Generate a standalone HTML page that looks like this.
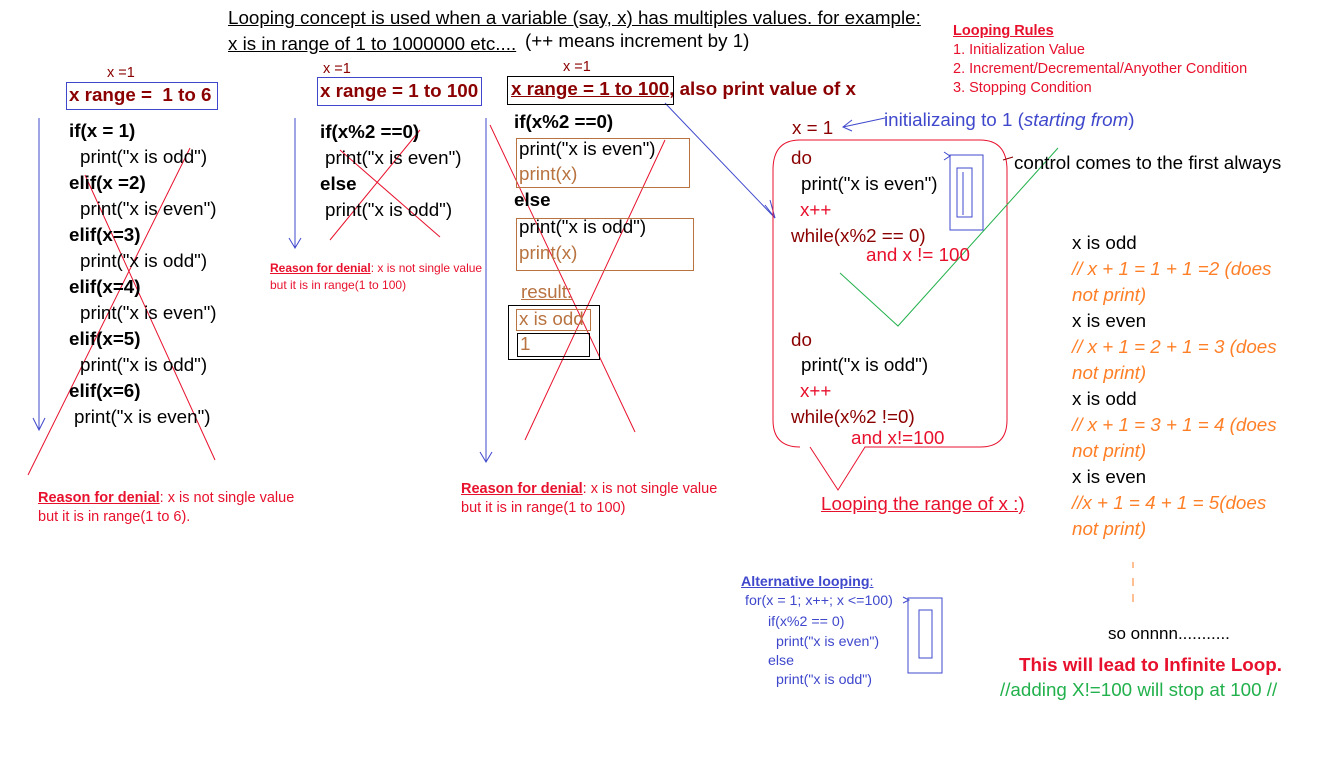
<!DOCTYPE html>
<html><head><meta charset="utf-8"><style>
body{margin:0;width:1338px;height:768px;background:#fff;position:relative;overflow:hidden;font-family:"Liberation Sans",sans-serif}
.t{position:absolute;white-space:nowrap;line-height:1}
.c{font-size:18.8px;color:#000}
.b{font-weight:bold}
.dr{color:#8b0000}
.r{color:#e8112d}
.br{color:#b87340}
.bl{color:#3f48cc}
.or{color:#ff7f27;font-style:italic}
.box{position:absolute;border:1px solid}
.rs{font-size:14.5px;color:#e8112d}
.al{font-size:14.2px}
</style></head><body>
<svg width="1338" height="768" style="position:absolute;left:0;top:0">
<g stroke="#3f48cc" fill="none" stroke-width="1">
<line x1="39" y1="118" x2="39" y2="430"/><polyline points="33,418 39,430 45,418"/>
<line x1="295" y1="118" x2="295" y2="248"/><polyline points="289,238 295,248 301,238"/>
<line x1="486" y1="118" x2="486" y2="462"/><polyline points="480,452 486,462 492,452"/>
<line x1="665" y1="103" x2="775" y2="218"/><polyline points="765,205 775,218 770,200"/>
<line x1="885" y1="118" x2="843" y2="127"/><polyline points="852,120 843,127 852,131"/>
<rect x="950" y="155" width="33" height="75"/><rect x="957" y="168" width="15" height="49"/>
<line x1="963" y1="172" x2="963" y2="215"/>
<polyline points="944,152 950,156 944,160"/>
<rect x="908" y="598" width="34" height="75"/><rect x="919" y="610" width="13" height="48"/>
<polyline points="903,597 909,600 903,603"/>
</g>
<g stroke="#e8112d" fill="none" stroke-width="1">
<line x1="28" y1="475" x2="190" y2="148"/><line x1="85" y1="175" x2="215" y2="460"/>
<line x1="330" y1="240" x2="420" y2="130"/><line x1="340" y1="150" x2="440" y2="237"/>
<line x1="490" y1="125" x2="635" y2="432"/><line x1="665" y1="140" x2="525" y2="440"/>
<path d="M810 447 L838 490 L865 447 L980 447 Q1007 447 1007 420 L1007 170 Q1007 140 980 140 L800 140 Q773 140 773 170 L773 420 Q773 447 800 447"/>
</g>
<g stroke="#22b14c" fill="none"><polyline points="840,273 898,326 1058,148"/></g>
<g stroke="#8b0000" fill="none"><line x1="1013" y1="157" x2="1003" y2="160"/></g>
<g stroke="#ff7f27"><line x1="1133" y1="562" x2="1133" y2="568"/><line x1="1133" y1="578" x2="1133" y2="586"/><line x1="1133" y1="594" x2="1133" y2="602"/></g>
</svg>

<div class="t c" style="left:228px;top:9px;text-decoration:underline">Looping concept is used when a variable (say, x) has multiples values. for example:</div>
<div class="t c" style="left:228px;top:35px;text-decoration:underline">x is in range of 1 to 1000000 etc....</div>
<div class="t c" style="left:525px;top:32px">(++ means increment by 1)</div>
<div class="t r b" style="left:953px;top:24px;font-size:14.5px;text-decoration:underline">Looping Rules</div>
<div class="t r" style="left:953px;top:43px;font-size:14.5px">1. Initialization Value</div>
<div class="t r" style="left:953px;top:62px;font-size:14.5px">2. Increment/Decremental/Anyother Condition</div>
<div class="t r" style="left:953px;top:81px;font-size:14.5px">3. Stopping Condition</div>

<div class="t dr" style="left:107px;top:66px;font-size:14.5px">x =1</div>
<div class="box" style="left:66px;top:82px;width:150px;height:26px;border-color:#3f48cc"></div>
<div class="t c b dr" style="left:69px;top:86px">x range =&nbsp; 1 to 6</div>
<div class="t c b" style="left:69px;top:122px">if(x = 1)</div>
<div class="t c" style="left:80px;top:148px">print("x is odd")</div>
<div class="t c b" style="left:69px;top:174px">elif(x =2)</div>
<div class="t c" style="left:80px;top:200px">print("x is even")</div>
<div class="t c b" style="left:69px;top:226px">elif(x=3)</div>
<div class="t c" style="left:80px;top:252px">print("x is odd")</div>
<div class="t c b" style="left:69px;top:278px">elif(x=4)</div>
<div class="t c" style="left:80px;top:304px">print("x is even")</div>
<div class="t c b" style="left:69px;top:330px">elif(x=5)</div>
<div class="t c" style="left:80px;top:356px">print("x is odd")</div>
<div class="t c b" style="left:69px;top:382px">elif(x=6)</div>
<div class="t c" style="left:74px;top:408px">print("x is even")</div>
<div class="t rs" style="left:38px;top:491px"><b><u>Reason for denial</u></b>: x is not single value</div>
<div class="t rs" style="left:38px;top:510px">but it is in range(1 to 6).</div>

<div class="t dr" style="left:323px;top:62px;font-size:14.5px">x =1</div>
<div class="box" style="left:317px;top:77px;width:163px;height:27px;border-color:#3f48cc"></div>
<div class="t c b dr" style="left:320px;top:82px">x range = 1 to 100</div>
<div class="t c b" style="left:320px;top:123px">if(x%2 ==0)</div>
<div class="t c" style="left:325px;top:149px">print("x is even")</div>
<div class="t c b" style="left:320px;top:175px">else</div>
<div class="t c" style="left:325px;top:201px">print("x is odd")</div>
<div class="t" style="left:270px;top:262px;font-size:12px;color:#e8112d"><b><u>Reason for denial</u></b>: x is not single value</div>
<div class="t" style="left:270px;top:279px;font-size:12px;color:#e8112d">but it is in range(1 to 100)</div>

<div class="t dr" style="left:563px;top:60px;font-size:14.5px">x =1</div>
<div class="box" style="left:507px;top:76px;width:165px;height:27px;border-color:#000"></div>
<div class="t c b dr" style="left:511px;top:80px"><u>x range = 1 to 100</u>, also print value of x</div>
<div class="t c b" style="left:514px;top:113px">if(x%2 ==0)</div>
<div class="box" style="left:516px;top:138px;width:172px;height:48px;border-color:#b87340"></div>
<div class="t c" style="left:519px;top:140px">print("x is even")</div>
<div class="t c br" style="left:519px;top:165px">print(x)</div>
<div class="t c b" style="left:514px;top:191px">else</div>
<div class="box" style="left:516px;top:218px;width:176px;height:51px;border-color:#b87340"></div>
<div class="t c" style="left:519px;top:218px">print("x is odd")</div>
<div class="t c br" style="left:519px;top:244px">print(x)</div>
<div class="t c br" style="left:521px;top:283px;text-decoration:underline">result:</div>
<div class="box" style="left:508px;top:305px;width:90px;height:53px;border-color:#000"></div>
<div class="box" style="left:516px;top:309px;width:73px;height:20px;border-color:#b87340"></div>
<div class="t c br" style="left:519px;top:310px">x is odd</div>
<div class="box" style="left:517px;top:333px;width:71px;height:22px;border-color:#000"></div>
<div class="t c br" style="left:520px;top:335px">1</div>
<div class="t rs" style="left:461px;top:482px"><b><u>Reason for denial</u></b>: x is not single value</div>
<div class="t rs" style="left:461px;top:501px">but it is in range(1 to 100)</div>

<div class="t c dr" style="left:792px;top:119px">x = 1</div>
<div class="t c bl" style="left:884px;top:111px">initializaing to 1 (<i>starting from</i>)</div>
<div class="t c" style="left:1014px;top:154px">control comes to the first always</div>
<div class="t c dr" style="left:791px;top:149px">do</div>
<div class="t c" style="left:801px;top:175px">print("x is even")</div>
<div class="t c r" style="left:800px;top:201px">x++</div>
<div class="t c dr" style="left:791px;top:227px">while(x%2 == 0)</div>
<div class="t c r" style="left:866px;top:246px">and x != 100</div>
<div class="t c dr" style="left:791px;top:331px">do</div>
<div class="t c" style="left:801px;top:356px">print("x is odd")</div>
<div class="t c r" style="left:800px;top:382px">x++</div>
<div class="t c dr" style="left:791px;top:408px">while(x%2 !=0)</div>
<div class="t c r" style="left:851px;top:429px">and x!=100</div>
<div class="t c r" style="left:821px;top:495px;text-decoration:underline">Looping the range of x :)</div>

<div class="t c" style="left:1072px;top:234px">x is odd</div>
<div class="t c or" style="left:1072px;top:260px">// x + 1 = 1 + 1 =2 (does</div>
<div class="t c or" style="left:1072px;top:286px">not print)</div>
<div class="t c" style="left:1072px;top:312px">x is even</div>
<div class="t c or" style="left:1072px;top:338px">// x + 1 = 2 + 1 = 3 (does</div>
<div class="t c or" style="left:1072px;top:364px">not print)</div>
<div class="t c" style="left:1072px;top:390px">x is odd</div>
<div class="t c or" style="left:1072px;top:416px">// x + 1 = 3 + 1 = 4 (does</div>
<div class="t c or" style="left:1072px;top:442px">not print)</div>
<div class="t c" style="left:1072px;top:468px">x is even</div>
<div class="t c or" style="left:1072px;top:494px">//x + 1 = 4 + 1 = 5(does</div>
<div class="t c or" style="left:1072px;top:520px">not print)</div>
<div class="t c" style="left:1108px;top:625px;font-size:17px">so onnnn...........</div>
<div class="t c b r" style="left:1019px;top:656px">This will lead to Infinite Loop.</div>
<div class="t c" style="left:1000px;top:681px;color:#22b14c">//adding X!=100 will stop at 100 //</div>

<div class="t bl b al" style="left:741px;top:575px;text-decoration:underline">Alternative looping<span style="font-weight:normal;text-decoration:none">:</span></div>
<div class="t bl al" style="left:745px;top:594px">for(x = 1; x++; x &lt;=100)</div>
<div class="t bl al" style="left:768px;top:615px">if(x%2 == 0)</div>
<div class="t bl al" style="left:776px;top:635px">print("x is even")</div>
<div class="t bl al" style="left:768px;top:654px">else</div>
<div class="t bl al" style="left:776px;top:673px">print("x is odd")</div>
</body></html>
